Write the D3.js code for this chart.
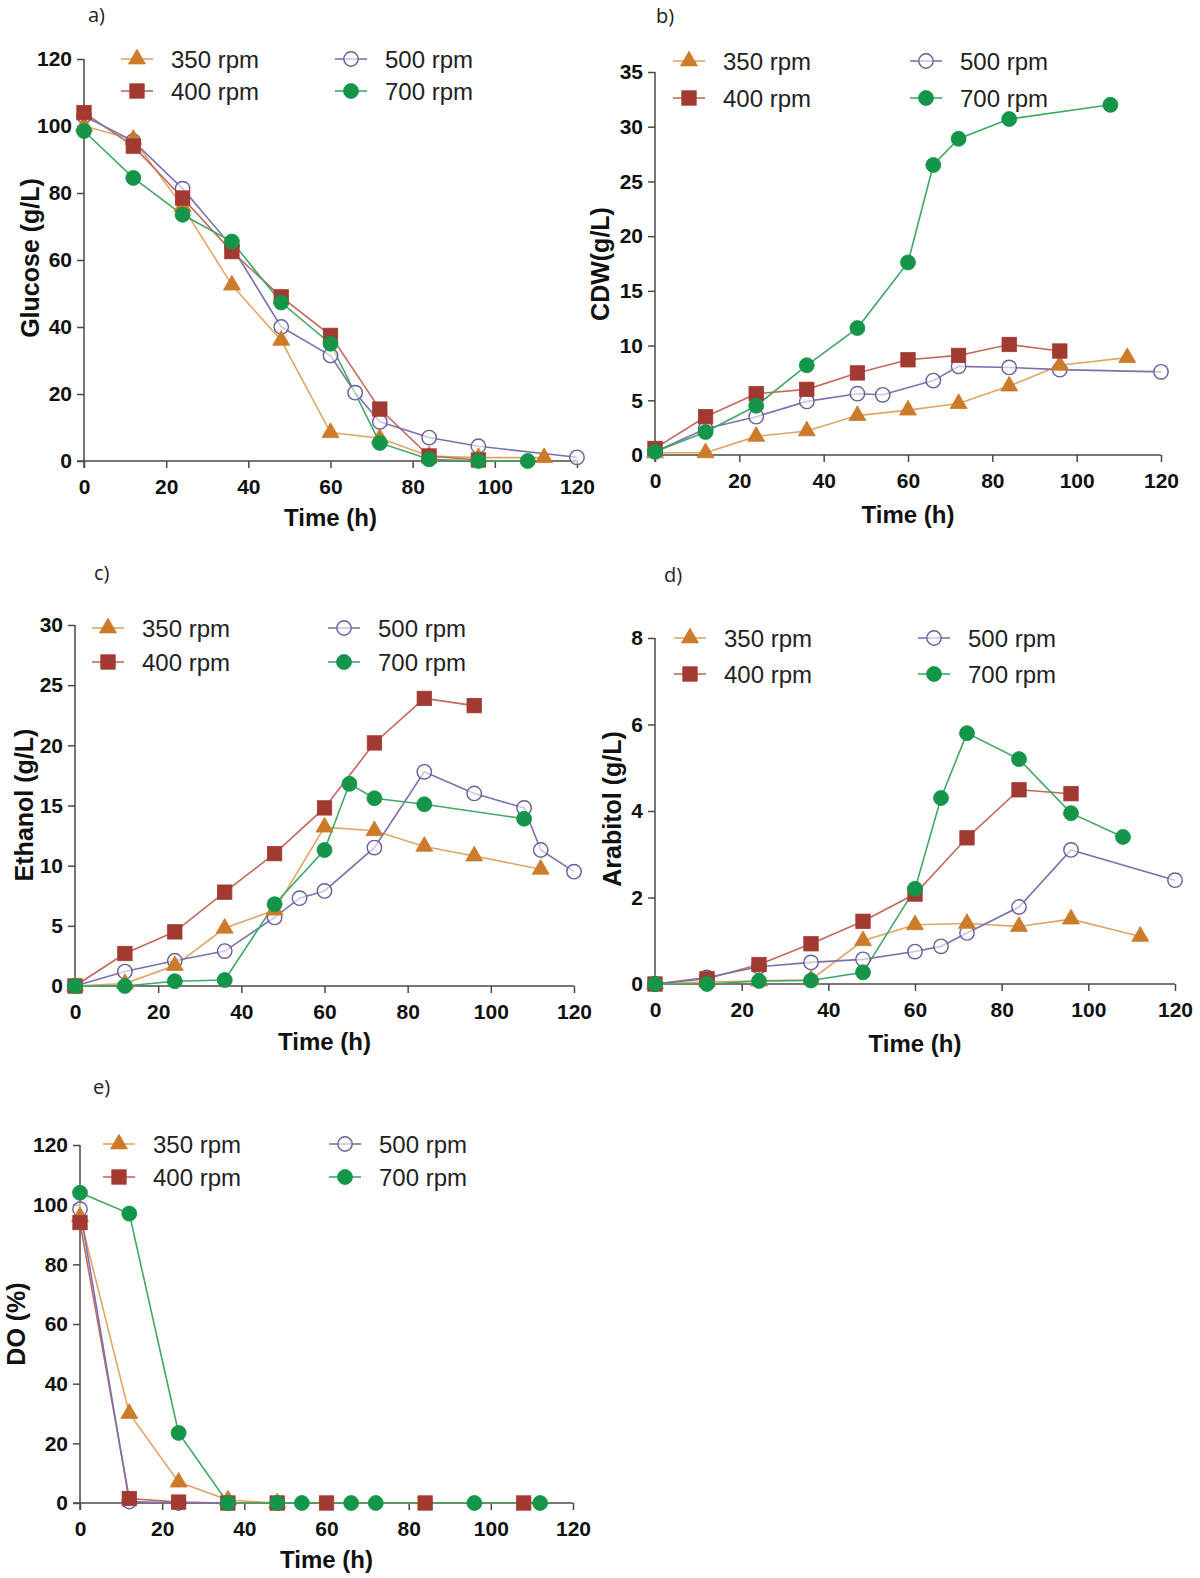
<!DOCTYPE html>
<html><head><meta charset="utf-8">
<script src="https://cdnjs.cloudflare.com/ajax/libs/d3/7.8.5/d3.min.js"></script>
<style>
body{margin:0;background:#fff;}
svg{display:block;}
</style></head>
<body>
<svg id="chart" width="1200" height="1578"></svg>
<script>
// ---------- DATA ----------
const seriesNames = ["350 rpm", "400 rpm", "500 rpm", "700 rpm"];
const xTicks = [0, 20, 40, 60, 80, 100, 120];

// a) Glucose (g/L)  [time h, value]
const glucose350 = [[0,100],[12,96],[24,76],[36,52.5],[48,36],[60,8.5],[72,6.8],[84,1.5],[96,1],[112,1]];
const glucose400 = [[0,104],[12,94],[24,78.5],[36,62.5],[48,49],[60,37.5],[72,15.5],[84,1.5],[96,0.3]];
const glucose500 = [[0,103],[12,95.5],[24,81.3],[36,64],[48,40],[60,31.5],[66,20.4],[72,11.7],[84,7],[96,4.4],[120,1.1]];
const glucose700 = [[0,98.5],[12,84.5],[24,73.5],[36,65.5],[48,47.3],[60,35],[72,5.4],[84,0.5],[96,0],[108,0]];
const glucoseTicks = [0, 20, 40, 60, 80, 100, 120];

// b) CDW (g/L)
const cdw350 = [[0,0.2],[12,0.2],[24,1.7],[36,2.2],[48,3.6],[60,4.1],[72,4.7],[84,6.3],[96,8.2],[112,8.9]];
const cdw400 = [[0,0.6],[12,3.5],[24,5.6],[36,6.0],[48,7.5],[60,8.7],[72,9.1],[84,10.1],[96,9.5]];
const cdw500 = [[0,0.3],[12,2.4],[24,3.5],[36,4.9],[48,5.6],[54,5.5],[66,6.8],[72,8.1],[84,8.0],[96,7.8],[120,7.6]];
const cdw700 = [[0,0.3],[12,2.1],[24,4.5],[36,8.2],[48,11.6],[60,17.6],[66,26.5],[72,28.9],[84,30.7],[108,32]];
const cdwTicks = [0, 5, 10, 15, 20, 25, 30, 35];

// c) Ethanol (g/L)
const ethanol350 = [[0,0],[12,0.2],[24,1.7],[36,4.8],[48,6.3],[60,13.2],[72,12.9],[84,11.6],[96,10.8],[112,9.7]];
const ethanol400 = [[0,0],[12,2.7],[24,4.5],[36,7.8],[48,11],[60,14.8],[72,20.2],[84,23.9],[96,23.3]];
const ethanol500 = [[0,0],[12,1.2],[24,2.1],[36,2.9],[48,5.7],[54,7.3],[60,7.9],[72,11.5],[84,17.8],[96,16.0],[108,14.8],[112,11.3],[120,9.5]];
const ethanol700 = [[0,0],[12,0],[24,0.4],[36,0.5],[48,6.8],[60,11.3],[66,16.8],[72,15.6],[84,15.1],[108,13.9]];
const ethanolTicks = [0, 5, 10, 15, 20, 25, 30];

// d) Arabitol (g/L)
const arabitol350 = [[0,0],[12,0.05],[24,0.07],[36,0.1],[48,1.0],[60,1.37],[72,1.4],[84,1.33],[96,1.5],[112,1.1]];
const arabitol400 = [[0,0],[12,0.12],[24,0.45],[36,0.93],[48,1.45],[60,2.08],[72,3.38],[84,4.49],[96,4.4]];
const arabitol500 = [[0,0],[12,0.15],[24,0.4],[36,0.5],[48,0.57],[60,0.75],[66,0.87],[72,1.18],[84,1.78],[96,3.1],[120,2.4]];
const arabitol700 = [[0,0],[12,0],[24,0.07],[36,0.08],[48,0.27],[60,2.2],[66,4.3],[72,5.8],[84,5.2],[96,3.95],[108,3.4]];
const arabitolTicks = [0, 2, 4, 6, 8];

// e) DO (%)
const do350 = [[0,96],[12,30],[24,7],[36,1],[48,0]];
const do400 = [[0,94],[12,1.5],[24,0.3],[36,0],[48,0],[60,0],[84,0],[108,0]];
const do500 = [[0,98.5],[12,0.5],[24,0],[36,0]];
const do700 = [[0,104],[12,97],[24,23.5],[36,0],[48,0],[54,0],[66,0],[72,0],[96,0],[112,0]];
const doTicks = [0, 20, 40, 60, 80, 100, 120];

// ---------- STYLE ----------
const styles = [
  {shape:"triangle", fill:"#cc7b2b", stroke:"#cc7b2b", line:"#e2a463"},
  {shape:"square",   fill:"#a23a31", stroke:"#a23a31", line:"#c4685c"},
  {shape:"circleOpen", fill:"#ffffff", stroke:"#6b5c9e", line:"#7d70b0"},
  {shape:"circle",   fill:"#14954a", stroke:"#14954a", line:"#3fa865"}
];

const panels = [
  {label:"a)", labelX:88, labelY:22, title:"Glucose (g/L)", data:[glucose350,glucose400,glucose500,glucose700],
   ticks:glucoseTicks, ymax:120, x0:84, x1:577, y0:461, y1:59, ytX:30, ytY:258, xtY:526,
   leg:{x1:137, x2:351, r1:59, r2:91}},
  {label:"b)", labelX:656, labelY:23, title:"CDW(g/L)", data:[cdw350,cdw400,cdw500,cdw700],
   ticks:cdwTicks, ymax:35, x0:655, x1:1161, y0:455, y1:72, ytX:600, ytY:264, xtY:523,
   leg:{x1:689, x2:926, r1:61, r2:98}},
  {label:"c)", labelX:94, labelY:580, title:"Ethanol (g/L)", data:[ethanol350,ethanol400,ethanol500,ethanol700],
   ticks:ethanolTicks, ymax:30, x0:75, x1:574, y0:986, y1:625, ytX:24, ytY:805, xtY:1050,
   leg:{x1:108, x2:344, r1:628, r2:662}},
  {label:"d)", labelX:664, labelY:582, title:"Arabitol (g/L)", data:[arabitol350,arabitol400,arabitol500,arabitol700],
   ticks:arabitolTicks, ymax:8, x0:655, x1:1175, y0:984, y1:638, ytX:612, ytY:809, xtY:1052,
   leg:{x1:690, x2:934, r1:638, r2:674}},
  {label:"e)", labelX:93, labelY:1094, title:"DO (%)", data:[do350,do400,do500,do700],
   ticks:doTicks, ymax:120, x0:80, x1:573, y0:1503, y1:1145, ytX:16, ytY:1324, xtY:1568,
   leg:{x1:119, x2:345, r1:1144, r2:1177}}
];

const svg = d3.select("#chart");
svg.append("rect").attr("width",1200).attr("height",1578).attr("fill","#fff");

const AXIS = "#4a4a4a";
const TICKFONT = "'Liberation Sans', Arial, sans-serif";

function drawMarker(g, shape, st, cx, cy) {
  if (shape === "triangle") {
    g.append("path").attr("d", d3.symbol(d3.symbolTriangle, 125)())
      .attr("transform", `translate(${cx},${cy})`).attr("fill", st.fill).attr("stroke", st.stroke).attr("stroke-width", 0.8);
  } else if (shape === "square") {
    g.append("rect").attr("x", cx-7.2).attr("y", cy-7.2).attr("width", 14.4).attr("height", 14.4)
      .attr("fill", st.fill).attr("stroke", st.stroke).attr("stroke-width", 0.8);
  } else if (shape === "circleOpen") {
    g.append("circle").attr("cx", cx).attr("cy", cy).attr("r", 7.2)
      .attr("fill", "#fff").attr("fill-opacity", 0.6).attr("stroke", st.stroke).attr("stroke-width", 1.4);
  } else {
    g.append("circle").attr("cx", cx).attr("cy", cy).attr("r", 7.5)
      .attr("fill", st.fill).attr("stroke", st.stroke).attr("stroke-width", 0.8);
  }
}

panels.forEach(p => {
  const g = svg.append("g");
  const x = d3.scaleLinear().domain([0,120]).range([p.x0, p.x1]);
  const y = d3.scaleLinear().domain([0,p.ymax]).range([p.y0, p.y1]);

  // panel label
  g.append("text").attr("x", p.labelX).attr("y", p.labelY)
    .attr("font-family", "'Open Sans', sans-serif").attr("font-size", 20).attr("fill", "#222").text(p.label);

  // axes
  const xa = g.append("g").attr("transform", `translate(0,${p.y0})`)
    .call(d3.axisBottom(x).tickValues(xTicks).tickSize(7).tickSizeOuter(0).tickPadding(11));
  const ya = g.append("g").attr("transform", `translate(${p.x0},0)`)
    .call(d3.axisLeft(y).tickValues(p.ticks).tickSize(7).tickSizeOuter(0).tickPadding(5));
  [xa, ya].forEach(a => {
    a.select(".domain").attr("stroke", AXIS).attr("stroke-width", 1.5);
    a.selectAll(".tick line").attr("stroke", AXIS).attr("stroke-width", 1.5);
    a.selectAll(".tick text").attr("font-family", TICKFONT).attr("font-weight", "bold")
      .attr("font-size", 21).attr("fill", "#111");
  });
  // extend domains so axes cross at origin with a stub
  xa.select(".domain").attr("d", `M${p.x0-7},0H${p.x1}`);
  ya.select(".domain").attr("d", `M0,${p.y0+7}V${p.y1}`);

  // axis titles
  g.append("text").attr("x", (p.x0+p.x1)/2).attr("y", p.xtY).attr("text-anchor","middle")
    .attr("font-family", TICKFONT).attr("font-weight","bold").attr("font-size", 24).attr("fill","#111").text("Time (h)");
  g.append("text").attr("transform", `translate(${p.ytX},${p.ytY}) rotate(-90)`).attr("text-anchor","middle")
    .attr("dominant-baseline","central")
    .attr("font-family", TICKFONT).attr("font-weight","bold").attr("font-size", 25).attr("fill","#111").text(p.title);

  // lines
  const line = d3.line().x(d => x(d[0])).y(d => y(d[1]));
  p.data.forEach((s, i) => {
    g.append("path").datum(s).attr("d", line).attr("fill","none")
      .attr("stroke", styles[i].line).attr("stroke-width", 1.6);
  });
  // markers (draw order: 500, 350, 400, 700)
  [2, 0, 1, 3].forEach(i => {
    p.data[i].forEach(d => drawMarker(g, styles[i].shape, styles[i], x(d[0]), y(d[1])));
  });

  // legend
  const pos = [[p.leg.x1, p.leg.r1],[p.leg.x1, p.leg.r2],[p.leg.x2, p.leg.r1],[p.leg.x2, p.leg.r2]];
  seriesNames.forEach((name, i) => {
    const [mx, my] = pos[i];
    g.append("line").attr("x1", mx-16).attr("x2", mx+16).attr("y1", my).attr("y2", my)
      .attr("stroke", styles[i].line).attr("stroke-width", 1.6);
    drawMarker(g, styles[i].shape, styles[i], mx, my);
    g.append("text").attr("x", mx+34).attr("y", my).attr("dominant-baseline","central")
      .attr("font-family", TICKFONT).attr("font-size", 24).attr("fill","#222").text(name);
  });
});
</script>
</body></html>
